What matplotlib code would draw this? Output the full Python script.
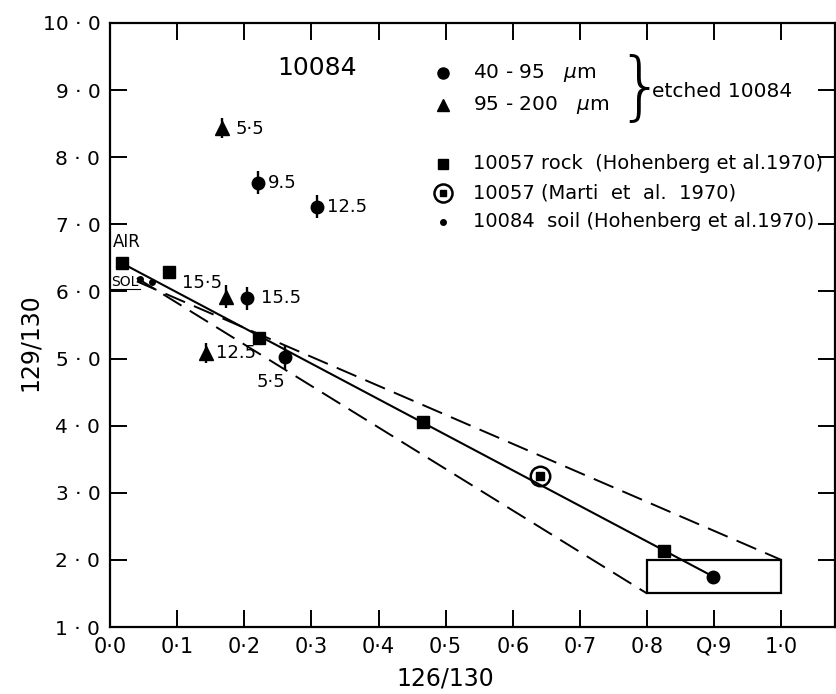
import matplotlib
matplotlib.use('Agg')
import matplotlib.pyplot as plt
from matplotlib.patches import Rectangle

plt.rcParams['font.family'] = ['DejaVu Sans']
plt.rcParams['mathtext.fontset'] = 'dejavusans'

# ---------------- data ----------------
rock_x = [0.018, 0.088, 0.222, 0.466, 0.825]
rock_y = [6.42, 6.29, 5.31, 4.05, 2.13]

marti_x = [0.640]
marti_y = [3.25]

soil_x = [0.045, 0.062]
soil_y = [6.18, 6.14]

fine_x = [0.221, 0.309, 0.204, 0.260, 0.899]
fine_y = [7.62, 7.26, 5.90, 5.02, 1.75]
fine_err = [0.17, 0.17, 0.17, 0.17, 0.0]
fine_labels = ['9.5', '12.5', '15.5', '5·5', '']

coarse_x = [0.167, 0.173, 0.143]
coarse_y = [8.44, 5.92, 5.08]
coarse_err = [0.15, 0.17, 0.15]
coarse_labels = ['5·5', '15·5', '12.5']

fit_x = [0.018, 0.899]
fit_y = [6.42, 1.75]
upper_x = [0.04, 1.0]
upper_y = [6.15, 2.0]
lower_x = [0.04, 0.8]
lower_y = [6.20, 1.5]

box_x = [0.8, 1.0]
box_y = [1.5, 2.0]

xticks = [0.0, 0.1, 0.2, 0.3, 0.4, 0.5, 0.6, 0.7, 0.8, 0.9, 1.0]
xticklabels = ['0·0', '0·1', '0·2', '0·3', '0·4', '0·5', '0·6', '0·7', '0·8', 'Q·9', '1·0']
yticks = [1, 2, 3, 4, 5, 6, 7, 8, 9, 10]
yticklabels = ['1 · 0', '2 · 0', '3 · 0', '4 · 0', '5 · 0', '6 · 0', '7 · 0',
               '8 · 0', '9 · 0', '10 · 0']

# ---------------- figure ----------------
fig = plt.figure(figsize=(8.37, 6.94), dpi=100)
ax = fig.add_axes([0.1314, 0.0965, 0.8662, 0.8704])
ax.set_xlim(0, 1.08)
ax.set_ylim(1.0, 10.0)

# lines
ax.plot(fit_x, fit_y, color='black', lw=1.5, zorder=2)
ax.plot(upper_x, upper_y, color='black', lw=1.4, linestyle=(0, (11, 5)), zorder=2)
ax.plot(lower_x, lower_y, color='black', lw=1.4, linestyle=(0, (11, 5)), zorder=2)
ax.add_patch(Rectangle((box_x[0], box_y[0]), box_x[1] - box_x[0], box_y[1] - box_y[0],
                       fill=False, edgecolor='black', lw=1.6, zorder=2))

# points
ax.plot(rock_x, rock_y, 's', color='black', ms=8, zorder=4)
ax.plot(marti_x, marti_y, 's', color='black', ms=6, zorder=4)
ax.plot(marti_x, marti_y, 'o', mfc='none', mec='black', mew=1.8, ms=14, zorder=4)
ax.plot(soil_x, soil_y, 'o', color='black', ms=4, zorder=4)
ax.errorbar(fine_x, fine_y, yerr=fine_err, fmt='o', color='black', ms=9,
            elinewidth=1.7, capsize=0, zorder=4)
ax.errorbar(coarse_x, coarse_y, yerr=coarse_err, fmt='^', color='black', ms=10,
            elinewidth=1.7, capsize=0, zorder=4)

# point labels
fine_off = [(7, 0), (7, 0), (10, 0), (-20, -18), (0, 0)]
coarse_off = [(10, -1), (-32, 10), (7, 0)]
for x, y, lab, off in zip(fine_x, fine_y, fine_labels, fine_off):
    if lab:
        ax.annotate(lab, (x, y), xytext=off, textcoords='offset points',
                    ha='left', va='center', fontsize=13)
for x, y, lab, off in zip(coarse_x, coarse_y, coarse_labels, coarse_off):
    ax.annotate(lab, (x, y), xytext=off, textcoords='offset points',
                ha='left', va='center', fontsize=13)

ax.text(0.004, 6.74, 'AIR', fontsize=12, ha='left', va='center')
ax.text(0.002, 6.14, 'SOL', fontsize=10, ha='left', va='center')
ax.plot([0.0, 0.045], [6.03, 6.03], color='black', lw=0.8)

# title-like label
ax.text(0.285, 0.926, '10084', transform=ax.transAxes, fontsize=18,
        ha='center', va='center')

# manual legend
lx_m, lx_t = 0.459, 0.501
ax.plot([lx_m], [0.917], 'o', color='black', ms=8, transform=ax.transAxes)
ax.text(lx_t, 0.917, r'40 - 95   $\mu$m', transform=ax.transAxes, fontsize=14.5,
        va='center')
ax.plot([lx_m], [0.864], '^', color='black', ms=8, transform=ax.transAxes)
ax.text(lx_t, 0.864, r'95 - 200   $\mu$m', transform=ax.transAxes, fontsize=14.5,
        va='center')
ax.text(0.731, 0.889, '}', transform=ax.transAxes, fontsize=54, va='center',
        ha='center', fontweight='light')
ax.text(0.748, 0.887, 'etched 10084', transform=ax.transAxes, fontsize=14.5,
        va='center')

ax.plot([lx_m], [0.767], 's', color='black', ms=7, transform=ax.transAxes)
ax.text(lx_t, 0.767, '10057 rock  (Hohenberg et al.1970)', transform=ax.transAxes,
        fontsize=14, va='center')
ax.plot([lx_m], [0.719], 's', color='black', ms=5, transform=ax.transAxes)
ax.plot([lx_m], [0.719], 'o', mfc='none', mec='black', mew=1.8, ms=13,
        transform=ax.transAxes)
ax.text(lx_t, 0.719, '10057 (Marti  et  al.  1970)', transform=ax.transAxes,
        fontsize=14, va='center')
ax.plot([lx_m], [0.671], 'o', color='black', ms=4, transform=ax.transAxes)
ax.text(lx_t, 0.671, '10084  soil (Hohenberg et al.1970)', transform=ax.transAxes,
        fontsize=14, va='center')

# axes styling
ax.set_xticks(xticks)
ax.set_xticklabels(xticklabels, fontsize=15)
ax.set_yticks(yticks)
ax.set_yticklabels(yticklabels, fontsize=14.5)
ax.tick_params(direction='in', length=12, width=1.4, top=True, right=True,
               pad=7)
for s in ax.spines.values():
    s.set_linewidth(1.6)
ax.set_xlabel('126/130', fontsize=17)
ax.xaxis.set_label_coords(0.463, -0.066)
ax.xaxis.label.set_va('top')
ax.set_ylabel('129/130', fontsize=17)
ax.yaxis.set_label_coords(-0.094, 0.472)

fig.savefig('out.png', dpi=100)
